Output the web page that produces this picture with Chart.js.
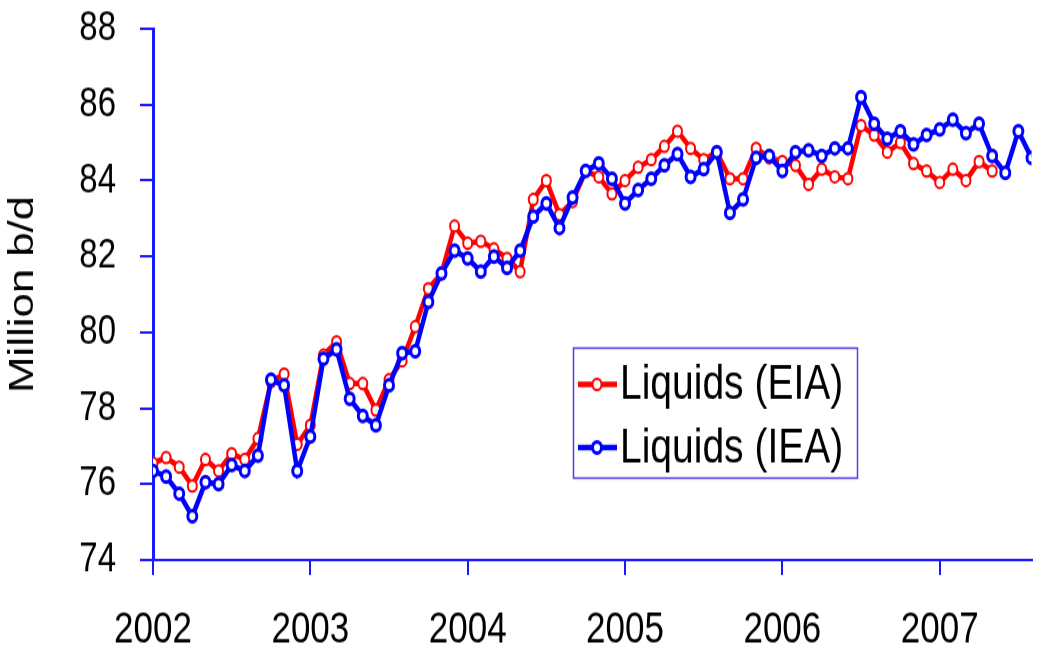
<!DOCTYPE html>
<html>
<head>
<meta charset="utf-8">
<script src="https://cdn.jsdelivr.net/npm/chart.js@4.4.1/dist/chart.umd.min.js"></script>
<style>
    html, body { margin: 0; padding: 0; background: #fff; overflow: hidden; }
    #wrap { width: 1039px; height: 650px; overflow: hidden; }
    /* the original picture is stretched vertically, so is this one */
    #liquidsChart { display: block; transform: scaleY(1.25); transform-origin: 0 0; }
</style>
</head>
<body>
<div id="wrap"><canvas id="liquidsChart" width="1039" height="520"></canvas></div>
<script>
// Monthly world liquids production, Jan 2002 onwards (million b/d)
const yearLabels = ['2002', '2003', '2004', '2005', '2006', '2007'];

const eiaLiquids = [
    76.55, 76.7, 76.45, 75.95, 76.65, 76.35, 76.8, 76.65, 77.2, 78.7, 78.9, 77.05,
    77.55, 79.4, 79.75, 78.65, 78.65, 77.95, 78.75, 79.25, 80.15, 81.15, 81.55, 82.8,
    82.35, 82.4, 82.2, 81.95, 81.6, 83.5, 84.0, 83.1, 83.45, 84.25, 84.1, 83.65,
    84.0, 84.35, 84.55, 84.9, 85.3, 84.85, 84.55, 84.75, 84.05, 84.05, 84.85, 84.6,
    84.5, 84.4, 83.9, 84.3, 84.1, 84.05, 85.45, 85.2, 84.75, 85.0, 84.45, 84.25,
    83.95, 84.3, 84.0, 84.5, 84.25
];

const ieaLiquids = [
    76.35, 76.2, 75.75, 75.15, 76.05, 76.0, 76.5, 76.35, 76.75, 78.75, 78.6, 76.35,
    77.25, 79.3, 79.55, 78.25, 77.8, 77.55, 78.6, 79.45, 79.5, 80.8, 81.55, 82.15,
    81.95, 81.6, 82.0, 81.7, 82.15, 83.05, 83.4, 82.75, 83.55, 84.25, 84.45, 84.05,
    83.4, 83.75, 84.05, 84.4, 84.7, 84.1, 84.3, 84.75, 83.15, 83.5, 84.6, 84.65,
    84.25, 84.75, 84.8, 84.65, 84.85, 84.85, 86.2, 85.5, 85.1, 85.3, 84.95, 85.2,
    85.35, 85.6, 85.25, 85.5, 84.65, 84.2, 85.3, 84.6
];

const toPoints = (values) => values.map((v, i) => ({ x: i, y: v }));

const axisBlue = '#1a1aff';
const sansFont = '"Liberation Sans", Arial, sans-serif';

// Leyenda con recuadro dentro del area del grafico
const boxLegend = {
    id: 'boxLegend',
    afterDraw(chart) {
        const c = chart.ctx;
        const rows = [chart.data.datasets[1], chart.data.datasets[0]];
        c.save();
        c.fillStyle = '#fff';
        c.fillRect(573, 278.5, 284, 104);
        c.strokeStyle = '#5040e0';
        c.lineWidth = 1.5;
        c.strokeRect(573.5, 278.5, 284, 104);
        rows.forEach((ds, i) => {
            const y = 307.5 + i * 50.5;
            c.strokeStyle = ds.borderColor;
            c.lineWidth = ds.borderWidth;
            c.beginPath();
            c.moveTo(578, y);
            c.lineTo(617, y);
            c.stroke();
            c.beginPath();
            c.arc(597, y, ds.pointRadius, 0, 2 * Math.PI);
            c.fillStyle = '#fff';
            c.fill();
            c.lineWidth = ds.pointBorderWidth;
            c.stroke();
            c.fillStyle = '#000';
            c.font = '39px ' + sansFont;
            c.textBaseline = 'middle';
            c.fillText(ds.label, 620, y + 1);
        });
        c.restore();
    }
};

const chart = new Chart(document.getElementById('liquidsChart'), {
    type: 'line',
    data: {
        datasets: [
            {
                label: 'Liquids (IEA)',
                data: toPoints(ieaLiquids),
                borderColor: '#0000ff',
                borderWidth: 4.5,
                pointRadius: 4.5,
                pointBorderWidth: 3,
                pointBackgroundColor: '#fff',
                pointBorderColor: '#0000ff',
                tension: 0,
            },
            {
                label: 'Liquids (EIA)',
                data: toPoints(eiaLiquids),
                borderColor: '#ff0000',
                borderWidth: 4.5,
                pointRadius: 4.5,
                pointBorderWidth: 2,
                pointBackgroundColor: '#fff',
                pointBorderColor: '#ff0000',
                tension: 0,
            },
        ],
    },
    options: {
        responsive: false,
        animation: false,
        devicePixelRatio: 1,
        layout: { padding: { top: 23, right: 0, bottom: 0, left: 0 } },
        plugins: {
            legend: { display: false },
            tooltip: { enabled: false },
        },
        scales: {
            x: {
                type: 'linear',
                min: 0,
                max: 67,
                afterBuildTicks: (scale) => {
                    scale.ticks = scale.ticks.filter((t) => t.value % 12 === 0);
                },
                afterFit: (scale) => { scale.height = 72; },
                ticks: {
                    stepSize: 12,
                    padding: 23,
                    color: '#000',
                    font: { family: sansFont, size: 35 },
                    callback: (v) => yearLabels[v / 12] || '',
                },
                grid: {
                    drawOnChartArea: false,
                    color: axisBlue,
                    lineWidth: 2,
                    tickLength: 12,
                },
                border: { color: axisBlue, width: 2 },
            },
            y: {
                min: 74,
                max: 88,
                afterFit: (scale) => {
                    scale.width = 153;
                    // el area del grafico empieza donde dice layout.padding
                    scale.paddingTop = 0;
                    scale.paddingBottom = 0;
                },
                ticks: {
                    stepSize: 2,
                    padding: 24,
                    color: '#000',
                    font: { family: sansFont, size: 33 },
                },
                grid: {
                    drawOnChartArea: false,
                    color: axisBlue,
                    lineWidth: 2,
                    tickLength: 13,
                },
                border: { color: axisBlue, width: 3 },
                title: {
                    display: true,
                    text: 'Million b/d',
                    color: '#000',
                    padding: { top: 2, bottom: 0 },
                    font: { family: sansFont, size: 35, weight: 'normal' },
                },
            },
        },
    },
    plugins: [boxLegend],
});
</script>
</body>
</html>
